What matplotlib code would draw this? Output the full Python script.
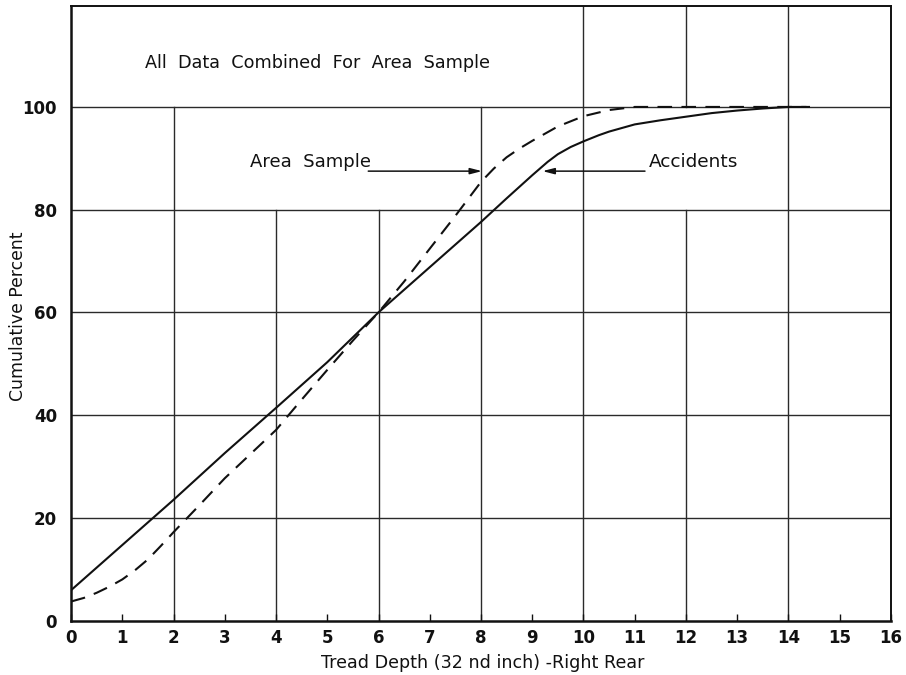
import matplotlib
matplotlib.use("Agg")
import matplotlib.pyplot as plt

plt.rcParams['font.family'] = ['DejaVu Sans']

# Cumulative percent of tires by tread depth (32nds of an inch), right rear
accident_depth = [0, 1, 2, 3, 4, 5, 6, 7, 8, 8.5, 9, 9.3, 9.5, 9.75, 10,
                  10.3, 10.5, 11, 11.5, 12, 12.5, 13, 13.5, 14, 14.4]
accident_pct = [5.9, 14.7, 23.5, 32.6, 41.4, 50.3, 60.0, 68.8, 77.6, 82.2,
                86.7, 89.3, 90.8, 92.2, 93.3, 94.5, 95.2, 96.6, 97.4, 98.1,
                98.8, 99.3, 99.7, 100.0, 100.0]

area_depth = [0, 0.25, 0.5, 0.75, 1, 1.25, 1.5, 1.75, 2, 2.5, 3, 3.5, 4, 4.5,
              5, 5.5, 6, 6.5, 7, 7.5, 8, 8.25, 8.5, 8.75, 9, 9.5, 10, 10.5,
              11, 12, 13, 14, 14.35]
area_pct = [3.7, 4.4, 5.4, 6.6, 8.0, 9.8, 11.9, 14.5, 17.2, 22.4, 27.7, 32.4,
            37.1, 43.0, 48.8, 54.5, 60.0, 66.0, 72.4, 78.8, 85.4, 88.0, 90.2,
            91.9, 93.4, 96.2, 98.2, 99.4, 100.0, 100.0, 100.0, 100.0, 100.0]

x_ticks = list(range(0, 17))
y_ticks = [0, 20, 40, 60, 80, 100]

# Grid segments: (x, y_from, y_to)
vertical_segments = [(2, 0, 100), (4, 0, 80), (6, 0, 80), (8, 0, 100),
                     (10, 0, 120), (12, 0, 80), (12, 100, 120), (14, 0, 120)]
horizontal_lines = [20, 40, 60, 80, 100]

ink = '#111111'
tick_font = ['Liberation Sans Narrow', 'DejaVu Sans']

fig = plt.figure(figsize=(9.06, 6.75), dpi=100)
ax = fig.add_axes([0.0784, 0.0807, 0.905, 0.910])
ax.set_xlim(0, 16)
ax.set_ylim(0, 119.6)

grid_kw = dict(color='#2a2a2a', lw=1.0, zorder=1)
for y in horizontal_lines:
    ax.plot([0, 16], [y, y], **grid_kw)
for x, y0, y1 in vertical_segments:
    ax.plot([x, x], [y0, y1], **grid_kw)

ax.plot(accident_depth, accident_pct, color=ink, lw=1.5, zorder=3)
ax.plot(area_depth, area_pct, color=ink, lw=1.5, dashes=(7, 4.5), zorder=3)

for side in ['left', 'bottom']:
    ax.spines[side].set_linewidth(1.8)
for side in ['top', 'right']:
    ax.spines[side].set_linewidth(1.4)
for s in ax.spines.values():
    s.set_color(ink)

ax.set_xticks(x_ticks)
ax.set_xticklabels([str(v) for v in x_ticks])
ax.set_yticks(y_ticks)
ax.set_yticklabels([str(v) for v in y_ticks])
ax.tick_params(axis='x', direction='in', length=5, width=1, pad=6,
               colors=ink)
ax.tick_params(axis='y', length=0, pad=10, colors=ink)
for lab in ax.get_xticklabels() + ax.get_yticklabels():
    lab.set_family(tick_font)
    lab.set_fontsize(12)
    lab.set_fontweight('bold')

ax.set_xlabel('Tread Depth (32 nd inch) -Right Rear', fontsize=12.6,
              color=ink)
ax.xaxis.set_label_coords(0.502, -0.054)
ax.set_ylabel('Cumulative Percent', fontsize=12.4, color=ink)
ax.yaxis.set_label_coords(-0.054, 0.496)

ax.text(1.45, 108.6, 'All  Data  Combined  For  Area  Sample', fontsize=12.7,
        va='center', ha='left', color=ink)
ax.text(3.5, 89.2, 'Area  Sample', fontsize=13, va='center', ha='left',
        color=ink)
ax.text(11.28, 89.2, 'Accidents', fontsize=13.3, va='center', ha='left',
        color=ink)

arrow_kw = dict(arrowstyle='-|>,head_length=0.7,head_width=0.18',
                color=ink, lw=1.1, shrinkA=0, shrinkB=0)
ax.annotate('', xy=(8.02, 87.5), xytext=(5.8, 87.5), arrowprops=arrow_kw)
ax.annotate('', xy=(9.2, 87.5), xytext=(11.2, 87.5), arrowprops=arrow_kw)

fig.savefig('out.png', dpi=100)
